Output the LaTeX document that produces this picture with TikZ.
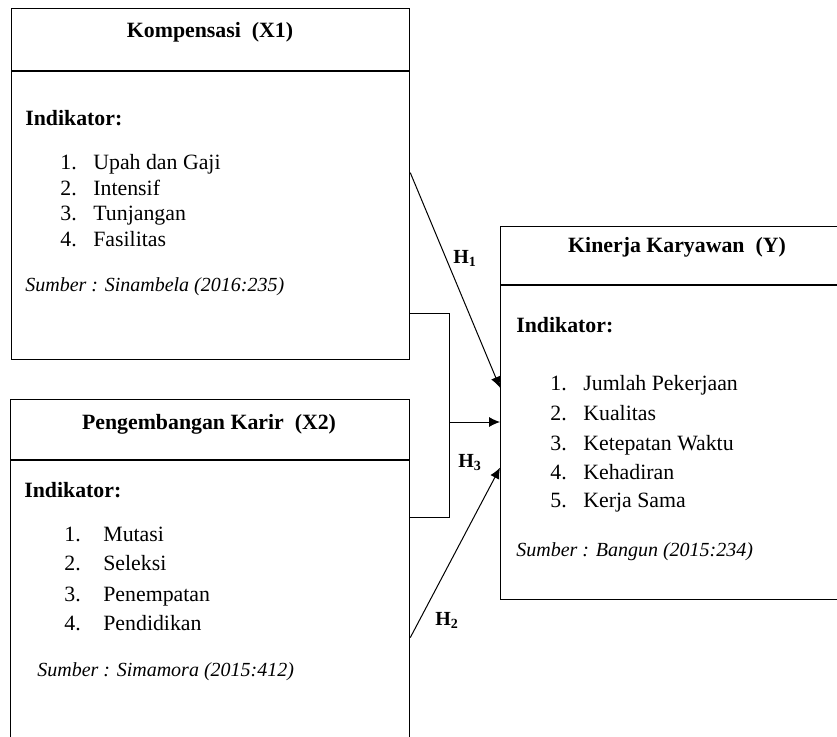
\documentclass[tikz,border=0pt]{standalone}
\usepackage{fontspec}
\setmainfont{Liberation Serif}
\usetikzlibrary{arrows,arrows.meta,positioning,calc}

\begin{document}
\begin{tikzpicture}[
            x=0.55pt, y=-0.55pt,
            panel/.style={draw, rectangle, line width=0.7pt, anchor=north west, inner sep=0pt},
            heading/.style={font=\fontsize{12}{14}\selectfont\bfseries, anchor=base, inner sep=0pt},
            entry/.style={font=\fontsize{12}{14}\selectfont, anchor=base west, inner sep=0pt},
            source/.style={font=\fontsize{11}{13}\selectfont\itshape, anchor=base west, inner sep=0pt},
            hyp/.style={font=\fontsize{11}{13}\selectfont\bfseries, inner sep=0pt},
            link/.style={draw, line width=0.55pt, -{Latex[length=6pt,width=5.5pt]}}
        ]
            \useasboundingbox (0,0) rectangle (837,736);
            \clip (0,0) rectangle (837,736);

            % boxes
            \node[panel, minimum width=218.9pt, minimum height=193.05pt] (comp) at (11,8) {};
            \node[panel, minimum width=219.45pt, minimum height=198.55pt] (karir) at (10,399) {};
            \node[panel, minimum width=189.75pt, minimum height=205.15pt] (kinerja) at (500,226) {};
            \draw[line width=0.7pt] ([yshift=-34.65pt]comp.north west) -- ([yshift=-34.65pt]comp.north east);
            \draw[line width=0.7pt] ([yshift=-33.55pt]karir.north west) -- ([yshift=-33.55pt]karir.north east);
            \draw[line width=0.7pt] ([yshift=-32.45pt]kinerja.north west) -- ([yshift=-32.45pt]kinerja.north east);

            % Kompensasi
            \node[heading] (compT) at (210,37) {Kompensasi~ (X1)};
            \node[entry, font=\fontsize{12}{14}\selectfont\bfseries] (compI) at (25,125) {Indikator:};
            \foreach \n/\t/\yy in {1/Upah dan Gaji/169, 2/Intensif/195, 3/Tunjangan/220, 4/Fasilitas/246}
                {\node[entry] (compN\n) at (60,\yy) {\n.};
                 \node[entry] (compE\n) at (93,\yy) {\t};}
            \node[source] (compS) at (25,291) {Sumber : Sinambela (2016:235)};

            % Pengembangan Karir
            \node[heading] (karirT) at (209,429) {Pengembangan Karir~ (X2)};
            \node[entry, font=\fontsize{12}{14}\selectfont\bfseries] (karirI) at (24,497) {Indikator:};
            \foreach \n/\t/\yy in {1/Mutasi/541, 2/Seleksi/570, 3/Penempatan/601, 4/Pendidikan/630}
                {\node[entry] (karirN\n) at (64,\yy) {\n.};
                 \node[entry] (karirE\n) at (103,\yy) {\t};}
            \node[source] (karirS) at (37,676) {Sumber : Simamora (2015:412)};

            % Kinerja Karyawan
            \node[heading] (kinerjaT) at (677,252) {Kinerja Karyawan~ (Y)};
            \node[entry, font=\fontsize{12}{14}\selectfont\bfseries] (kinerjaI) at (516,332) {Indikator:};
            \foreach \n/\t/\yy in {1/Jumlah Pekerjaan/390, 2/Kualitas/420, 3/Ketepatan Waktu/450, 4/Kehadiran/479, 5/Kerja Sama/507}
                {\node[entry] (kinerjaN\n) at (550,\yy) {\n.};
                 \node[entry] (kinerjaE\n) at (583,\yy) {\t};}
            \node[source] (kinerjaS) at (516,556) {Sumber : Bangun (2015:234)};

            % hypotheses
            \draw[link] ([yshift=6.3pt]comp.east) -- ([yshift=14pt]kinerja.west);
            \draw[line width=0.55pt] ([yshift=-71.2pt]comp.east) -- ++(39,0) |- ([yshift=34.4pt]karir.east);
            \coordinate (fork) at (449,422);
            \draw[link] (fork) -- (fork -| kinerja.west);
            \draw[link] ([yshift=-31.6pt]karir.east) -- ([yshift=-30pt]kinerja.west);

            \node[hyp] (h1) at (465,258) {H\textsubscript{1}};
            \node[hyp] (h3) at (470,463) {H\textsubscript{3}};
            \node[hyp] (h2) at (447,620) {H\textsubscript{2}};
        \end{tikzpicture}
\end{document}
